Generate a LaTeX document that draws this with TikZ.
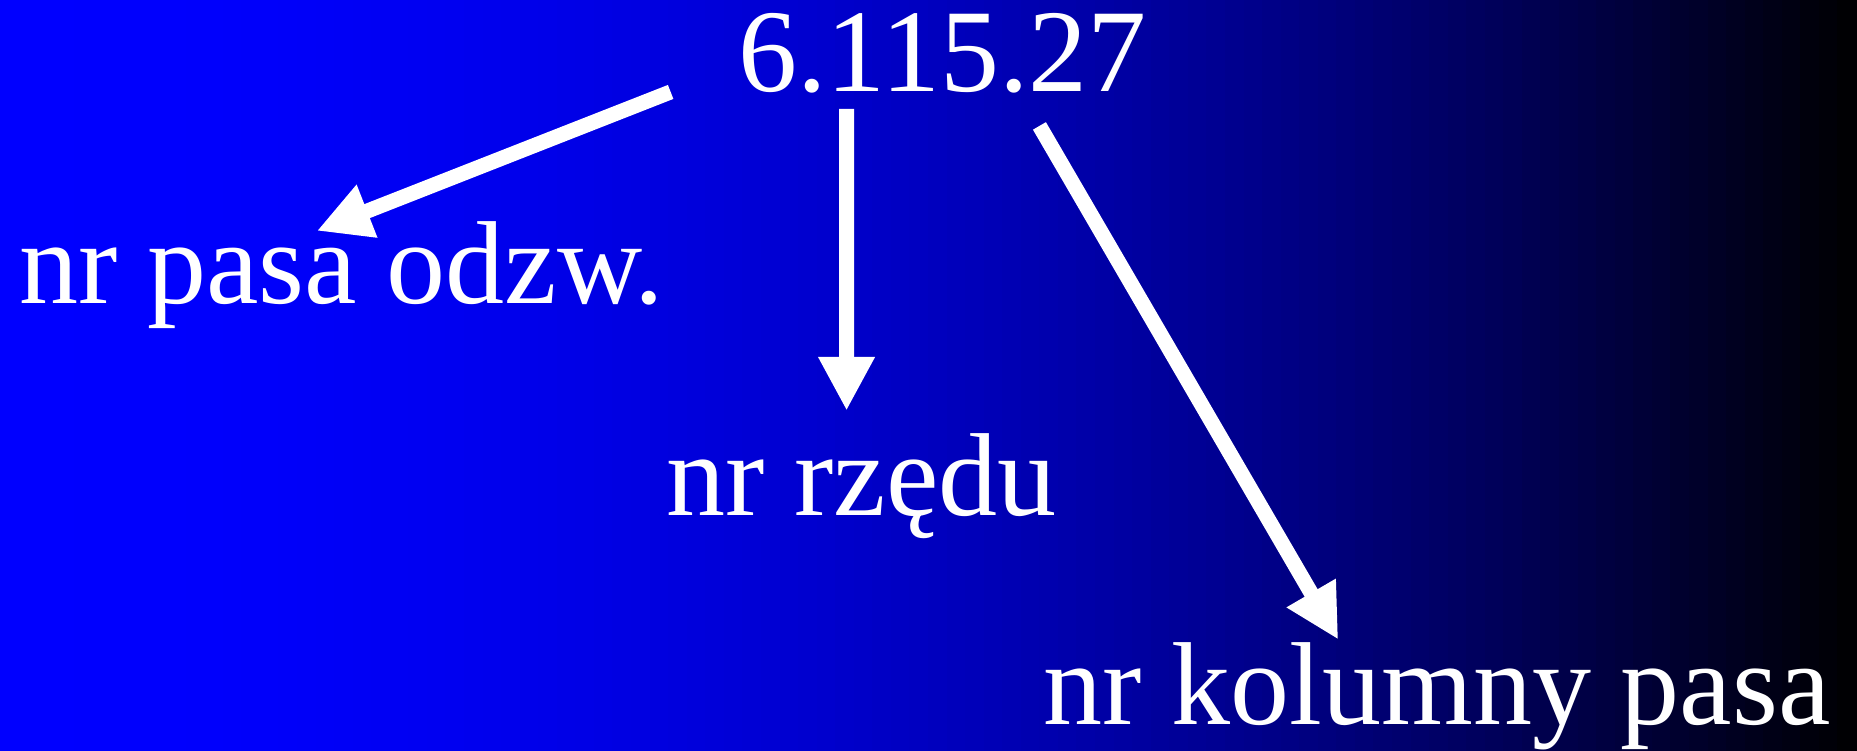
\documentclass[tikz,border=0pt]{standalone}
\usepackage{fontspec}
\setmainfont{Liberation Serif}
\usetikzlibrary{positioning,arrows.meta}

\begin{document}
\begin{tikzpicture}[
    font=\fontsize{33.6}{40}\selectfont,
    lbl/.style={text=white, inner sep=0pt, anchor=base},
    flow/.style={-{Triangle[length=5.4mm, width=5.3mm]}, white, line width=1.5mm},
  ]

  % --- Background: blue fading to black, slowly at first --------------------
  \foreach \i in {0,...,99} {
    \pgfmathsetmacro\p{100*(1-((\i+0.5)/100)^2)}
    \fill[blue!\p!black] (\i*0.1857,0) rectangle ({(\i+1)*0.1857+0.01},7.51);
  }
  \useasboundingbox (0,0) rectangle (18.57,7.51);

  % --- Number and its parts ---------------------------------------------------
  \node[lbl] (num)  at (9.43, 6.59) {6.115.27};
  \node[lbl] (pasa) at (3.42, 4.47) {nr pasa odzw.};
  \node[lbl] (rzad) at (8.62, 2.35) {nr rzędu};
  \node[lbl] (kol)  at (14.38, 0.26) {nr kolumny pasa};

  % --- Arrows ---------------------------------------------------------------
  \draw[flow] ([xshift=-27.2mm]num.base) -- ([shift={(-0.25,0.73)}]pasa.base);
  \draw[flow] ([shift={(-0.96,-0.17)}]num.base) -- ([shift={(-0.15,1.05)}]rzad.base);
  \draw[flow] ([shift={(0.97,-0.34)}]num.base) -- ([shift={(-0.99,0.85)}]kol.base);

\end{tikzpicture}
\end{document}
